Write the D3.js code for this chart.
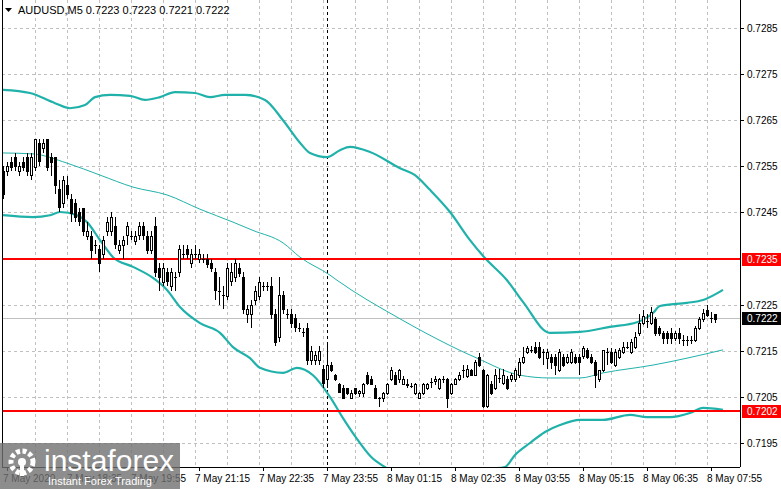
<!DOCTYPE html>
<html>
<head>
<meta charset="utf-8">
<script src="https://cdn.jsdelivr.net/npm/d3@7"></script>
<style>
  body { margin: 0; background: #fff; }
  text { font-family: "Liberation Sans", Arial, sans-serif; }
</style>
</head>
<body>
<svg id="chart" width="781" height="489"></svg>
<script>
// AUDUSD M5 candles, prices in pips (x 0.0001)
var opens = [7254,7254,7256,7257,7254,7256,7257,7253,7255,7260,7259,7261,7257,7257,7250,7247,7251,7248,7247,7245,
  7246,7240,7240,7238,7237,7236,7241,7241,7242,7237,7238,7240,7240,7239,7240,7242,7240,7237,7242,7233,
  7230,7232,7229,7231,7232,7236,7237,7234,7236,7235,7235,7235,7234,7232,7228,7227,7227,7230,7231,7233,
  7231,7223,7223,7226,7227,7229,7229,7229,7223,7218,7227,7223,7223,7222,7220,7219,7220,7213,7213,7213,
  7211,7209,7212,7209.7,7207.8,7206.9,7206.9,7204.7,7206.9,7205.8,7205.8,7209.7,7208.8,7206.9,7204.7,7204.7,7205.8,7208.8,7209.7,7208.8,
  7207.8,7207.8,7207.4,7205.8,7204.7,7205.8,7206.9,7208.2,7208.4,7206.9,7208.8,7208.8,7205.8,7207.8,7208.8,7210.8,7209.5,7210.8,7209.7,7213.7,
  7210.8,7202.9,7207.8,7206.9,7209,7208,7208.8,7208.8,7208.8,7209.7,7212.6,7214.8,7215.2,7215.9,7215.9,7214.8,7213.4,7213.7,7213.7,7210.8,
  7213.7,7212.6,7212.6,7213.7,7213.7,7213.7,7215.2,7213.7,7212.6,7208.8,7210.8,7214.8,7214.8,7211.9,7213.7,7214.8,7215.9,7214.8,7215.9,7218.8,
  7221,7221.5,7221,7221.8,7219.9,7218.8,7218.8,7218.8,7217.7,7218.8,7217.4,7217.4,7217.4,7217.3,7219.9,7221.8,7223.8,7222.2,7223];
var highs = [7255,7256,7257,7258,7256,7257,7258,7258,7261,7261,7261,7261,7258,7257,7252,7253,7253,7249,7248,7246,
  7246,7243,7241,7239,7238,7240,7244,7245,7244,7239,7240,7243,7241,7241,7243,7243,7241,7241,7244,7234,
  7234,7233,7233,7232,7238,7238,7238,7237,7238,7237,7236,7236,7235,7233,7231,7229,7234,7234,7235,7234,
  7232,7225,7226,7229,7231,7230,7230,7231,7224,7231,7228,7224,7224,7223,7221,7220,7221,7216,7215,7216,
  7212,7217,7212.5,7210,7208,7207.5,7207,7206.5,7207,7206.5,7208,7210.5,7209.5,7207.5,7205,7206,7208,7211.5,7210.5,7211,
  7209.5,7208.8,7208,7208,7206,7208,7208,7209,7209.5,7209,7209.5,7209,7208,7209,7210.5,7212,7212,7211,7213,7214.5,
  7211,7210,7208.5,7211,7211,7211,7209.5,7210.2,7211.3,7213.5,7215.9,7216,7216,7216.8,7216.8,7215.3,7215.3,7214.2,7214.2,7215.3,
  7214.2,7214.2,7215.3,7214.2,7214.2,7216,7215.5,7214.2,7213,7209.5,7211.5,7215.7,7215.5,7215.3,7215.7,7217,7217,7217.5,7219,7223,
  7223.8,7223,7224.5,7222.3,7220.4,7219.3,7219.3,7220,7219.3,7220,7218.5,7218.3,7218.3,7220.4,7222.3,7224,7225,7223.5,7223];
var lows = [7248,7253,7254,7254,7253,7254,7253,7252,7254,7255,7258,7254,7253,7249,7245,7246,7248,7243,7243,7242,
  7240,7239,7235,7236,7232,7235,7240,7240,7237,7236,7235,7238,7239,7238,7239,7239,7236,7236,7231,7228,
  7229,7229,7228,7228,7231,7235,7235,7233,7235,7234,7234,7233,7232,7226,7225,7224,7226,7229,7230,7231,
  7223,7221,7220,7225,7226,7228,7228,7222,7216,7217,7223,7222,7220,7219,7219,7218,7212,7212,7212,7212,
  7207,7207,7210.5,7208.5,7205.8,7204.5,7205.5,7204.5,7205.5,7205,7205,7207.5,7207.5,7204.5,7202.9,7204,7205.5,7208.5,7207.5,7208,
  7207.5,7207,7207,7205.5,7204.5,7205.5,7206.5,7207,7207.5,7206.5,7208,7202.5,7205.5,7207.5,7208.5,7209,7209,7209.5,7209.5,7211.5,
  7202.5,7202.5,7205.5,7206.5,7208,7207.5,7206.5,7208.3,7208.3,7209.2,7212.2,7214.3,7214.5,7214.3,7213.2,7212,7211,7211,7209.7,7210.3,
  7211.4,7212.1,7212.1,7212.1,7209.7,7213.2,7213.2,7212.1,7206.9,7208.3,7210.3,7212,7212.1,7211.4,7213.2,7214.3,7215.4,7214.3,7215.4,7218.3,
  7220.5,7220,7220.5,7218.3,7218.3,7216.5,7216.5,7216.5,7217.2,7216.5,7216,7216,7216.5,7216.8,7219.4,7221.3,7222.3,7221,7221];
var closes = [7249,7255,7255,7255,7255,7255,7254,7257,7261,7256,7260,7255,7256,7251,7246,7252,7249,7245,7244,7243,
  7241,7241,7237,7238,7234,7239,7243,7244,7238,7238,7239,7242,7240,7240,7242,7240,7237,7240,7232,7231,
  7233,7230,7232,7231,7237,7236,7236,7236,7236,7236,7235,7234,7233,7228,7228,7227,7233,7232,7234,7232,
  7224,7224,7225,7228,7230,7229,7229,7223,7217,7227,7224,7223,7221,7220,7220,7219,7213,7215,7214,7215,
  7208,7212,7211,7208.8,7206,7204.7,7205.8,7205.8,7205.8,7206.2,7207.8,7208,7207.8,7204.7,7204.7,7205.8,7207.8,7210.8,7207.8,7210.8,
  7208.8,7207.5,7207.4,7207.8,7205.8,7207.8,7207.8,7208.2,7208.8,7208.8,7208.8,7204.7,7207.8,7208.8,7209.7,7210.8,7211,7209.7,7212.6,7211.9,
  7202.9,7209.7,7205.8,7209.7,7209,7209.7,7206.9,7209.7,7210.8,7212.6,7213.7,7215.6,7215.2,7214.8,7213.7,7214.8,7214.8,7212.6,7211.9,7214.8,
  7211.9,7213.7,7214.8,7212.6,7212.6,7215.5,7213.7,7212.6,7209.7,7210.8,7215.2,7214.8,7212.6,7214.8,7215.2,7215.9,7215.9,7216.9,7218,7221,
  7222.5,7221.5,7223.4,7218.8,7218.8,7217.7,7217.7,7217.7,7218.8,7217.7,7217.4,7217.4,7217.4,7219.9,7221.8,7223.1,7222.8,7222.2,7222];

// Bollinger band lines: [bar index, price in pips]
var upperBand = [[0,7271.6],[6.75,7270.9],[13,7268.7],[16.75,7267.6],[20.5,7268.3],[23,7270],[26.75,7270.5],[31.75,7270.3],
  [35.5,7269.4],[39.25,7270],[43,7271.1],[48,7270.9],[51.75,7270],[55.5,7270.5],[60.5,7270.5],[65.5,7269.4],[70,7265],
  [74.25,7260.1],[76.75,7257.9],[81,7257],[84.25,7258.5],[86.75,7259.2],[91.75,7258.1],[99.25,7254.6],[103,7253.1],
  [106.75,7249.9],[111.75,7245.1],[116.75,7239],[120.5,7235.1],[126,7230.3],[130,7225.6],[136.75,7218.9],[144.25,7219.1],
  [151.75,7220.2],[158.5,7221.2],[162.5,7223.2],[164.25,7224.7],[171,7225.4],[175,7226],[180,7228.2]];
var middleBand = [[0,7257.9],[7.5,7257.7],[16,7255.7],[24.25,7253.1],[32.5,7250.5],[41,7248.8],[49.25,7245.7],[57.5,7242.9],
  [62.5,7241.1],[70,7238.4],[74.25,7235.3],[81.75,7231.4],[83.5,7230.3],[98.5,7222.3],[118.5,7213.4],[129.25,7209.7],
  [136.75,7209.1],[144.25,7209.1],[150,7210.2],[162.5,7211.9],[171,7213.4],[180,7215.2]];
var lowerBand = [[0,7244.4],[7.5,7244],[11.75,7244.4],[14.25,7245.1],[18.5,7244.4],[21,7242.9],[24.25,7239],[27.5,7235.3],
  [32.5,7233.2],[37.5,7230.8],[41,7228.2],[44.25,7224.5],[49.25,7221],[54.25,7218.9],[57.5,7215.8],[61.75,7213.4],
  [64.25,7211.3],[70,7210.2],[73.5,7211.3],[77.5,7209.7],[81.75,7205],[85,7200.4],[88,7196.5],[92,7192],[96.75,7189],
  [104,7183],[112,7181],[118,7185],[121,7189.3],[125.5,7189.8],[128,7192.4],[131.75,7195],[135.5,7197.4],[139.25,7198.9],
  [144.25,7200],[150,7200],[156.75,7201.1],[161,7200.6],[166.75,7200.6],[171.75,7201.5],[175,7202.6],[180,7202.2]];

var priceTicks = [7285,7275,7265,7255,7245,7225,7215,7205,7195];
var levels = [7235,7202];
var lastPrice = 7222;
var timeLabels = ["7 May 2020","7 May 18:35","7 May 19:55","7 May 21:15","7 May 22:35","7 May 23:55",
  "8 May 01:15","8 May 02:35","8 May 03:55","8 May 05:15","8 May 06:35","8 May 07:55"];
var firstLabelBar = 1, barsPerLabel = 16, separatorBar = 81;

var svg = d3.select("#chart");
var plot = {left: 2, right: 740, top: 0, bottom: 467};

var x = d3.scaleLinear().domain([0, 178]).range([3, 715]);
var y = d3.scaleLinear().domain([7195, 7285]).range([443, 28]);

svg.append("defs").append("clipPath").attr("id", "clip")
  .append("rect").attr("x", plot.left).attr("y", plot.top)
  .attr("width", plot.right - plot.left).attr("height", plot.bottom - plot.top);

// grid
var grid = svg.append("g").attr("stroke", "#c0c0c0").attr("stroke-dasharray", "3,3").attr("shape-rendering", "crispEdges");
d3.range(7195, 7290, 10).forEach(function(p) {
  grid.append("line").attr("x1", plot.left).attr("x2", plot.right)
    .attr("y1", Math.round(y(p)) + 0.5).attr("y2", Math.round(y(p)) + 0.5);
});
d3.range(8, 184, 8).forEach(function(i) {
  if (x(i) < plot.right)
    grid.append("line").attr("x1", Math.round(x(i)) + 0.5).attr("x2", Math.round(x(i)) + 0.5)
      .attr("y1", plot.top).attr("y2", plot.bottom);
});

// bid line and separator
svg.append("line").attr("x1", plot.left).attr("x2", plot.right)
  .attr("y1", Math.round(y(lastPrice)) + 0.5).attr("y2", Math.round(y(lastPrice)) + 0.5)
  .attr("stroke", "#c0c0c0").attr("shape-rendering", "crispEdges");
svg.append("line").attr("x1", Math.round(x(separatorBar)) + 0.5).attr("x2", Math.round(x(separatorBar)) + 0.5)
  .attr("y1", plot.top).attr("y2", plot.bottom)
  .attr("stroke", "#000").attr("stroke-dasharray", "3,3").attr("shape-rendering", "crispEdges");

// bands
var g = svg.append("g").attr("clip-path", "url(#clip)");
var bandLine = d3.line().x(function(d) { return x(d[0]); }).y(function(d) { return y(d[1]); }).curve(d3.curveMonotoneX);
g.append("path").attr("d", bandLine(middleBand)).attr("fill", "none").attr("stroke", "#20b2aa").attr("stroke-width", 1);
[upperBand, lowerBand].forEach(function(b) {
  g.append("path").attr("d", bandLine(b)).attr("fill", "none").attr("stroke", "#20b2aa").attr("stroke-width", 2.2);
});

// level lines
levels.forEach(function(p) {
  g.append("line").attr("x1", plot.left).attr("x2", plot.right)
    .attr("y1", Math.round(y(p))).attr("y2", Math.round(y(p)))
    .attr("stroke", "#ff0000").attr("stroke-width", 2);
});

// candles
var candles = g.selectAll("g.candle").data(opens.map(function(o, i) {
  return {i: i, o: o, h: highs[i], l: lows[i], c: closes[i]};
})).enter().append("g").attr("shape-rendering", "crispEdges");
candles.append("line")
  .attr("x1", function(d) { return Math.round(x(d.i)) + 0.5; })
  .attr("x2", function(d) { return Math.round(x(d.i)) + 0.5; })
  .attr("y1", function(d) { return y(d.h); })
  .attr("y2", function(d) { return y(d.l); })
  .attr("stroke", "#000");
candles.append("rect")
  .attr("x", function(d) { return Math.round(x(d.i)) - 0.5; })
  .attr("width", 2)
  .attr("y", function(d) { return Math.round(y(Math.max(d.o, d.c))) + 0.5; })
  .attr("height", function(d) { return Math.max(0.1, Math.round(Math.abs(y(d.o) - y(d.c)))); })
  .attr("fill", function(d) { return d.c < d.o ? "#000" : "#fff"; })
  .attr("stroke", "#000");

// frame
svg.append("line").attr("x1", plot.left + 0.5).attr("x2", plot.left + 0.5).attr("y1", 0).attr("y2", plot.bottom)
  .attr("stroke", "#000").attr("shape-rendering", "crispEdges");
svg.append("line").attr("x1", plot.right + 0.5).attr("x2", plot.right + 0.5).attr("y1", 0).attr("y2", plot.bottom)
  .attr("stroke", "#000").attr("shape-rendering", "crispEdges");
svg.append("line").attr("x1", plot.left).attr("x2", plot.right).attr("y1", plot.bottom + 0.5).attr("y2", plot.bottom + 0.5)
  .attr("stroke", "#000").attr("shape-rendering", "crispEdges");

// price axis
priceTicks.forEach(function(p) {
  var yy = Math.round(y(p));
  svg.append("line").attr("x1", plot.right).attr("x2", plot.right + 4).attr("y1", yy + 0.5).attr("y2", yy + 0.5).attr("stroke", "#000");
  svg.append("text").attr("x", 747).attr("y", yy + 4).attr("font-size", 10).attr("fill", "#000").text((p / 10000).toFixed(4));
});
function priceBox(p, bg) {
  var yy = Math.round(y(p));
  svg.append("rect").attr("x", 742).attr("y", yy - 6).attr("width", 39).attr("height", 13).attr("fill", bg);
  svg.append("text").attr("x", 747).attr("y", yy + 4).attr("font-size", 10).attr("fill", "#fff").text((p / 10000).toFixed(4));
}
levels.forEach(function(p) { priceBox(p, "#ff0000"); });
priceBox(lastPrice, "#000");

// time axis
timeLabels.forEach(function(t, k) {
  var xx = Math.round(x(firstLabelBar + k * barsPerLabel));
  svg.append("line").attr("x1", xx + 0.5).attr("x2", xx + 0.5).attr("y1", plot.bottom).attr("y2", plot.bottom + 4).attr("stroke", "#000");
  svg.append("text").attr("x", xx - 4).attr("y", 482).attr("font-size", 10).attr("fill", "#000").text(t);
});

// title
svg.append("path").attr("d", "M5,8 L12,8 L8.5,12 Z").attr("fill", "#000");
svg.append("text").attr("x", 18).attr("y", 14).attr("font-size", 11).attr("fill", "#000")
  .text("AUDUSD,M5  0.7223 0.7223 0.7221 0.7222");

// watermark
var wm = svg.append("g");
wm.append("rect").attr("x", 0).attr("y", 443).attr("width", 180).attr("height", 46).attr("fill", "#707070").attr("opacity", 0.8);
wm.append("circle").attr("cx", 22).attr("cy", 462).attr("r", 11).attr("fill", "none").attr("stroke", "#fff").attr("stroke-width", 5).attr("stroke-dasharray", "4,2.5");
wm.append("circle").attr("cx", 22).attr("cy", 462).attr("r", 4).attr("fill", "#fff");
wm.append("rect").attr("x", 20).attr("y", 464).attr("width", 4).attr("height", 12).attr("fill", "#fff");
wm.append("text").attr("x", 44).attr("y", 471).attr("font-size", 30).attr("fill", "#fff").attr("font-family", "Open Sans").attr("font-weight", 300).text("instaforex");
wm.append("text").attr("x", 48).attr("y", 485).attr("font-size", 11).attr("fill", "#fff").text("Instant Forex Trading");
</script>
</body>
</html>
